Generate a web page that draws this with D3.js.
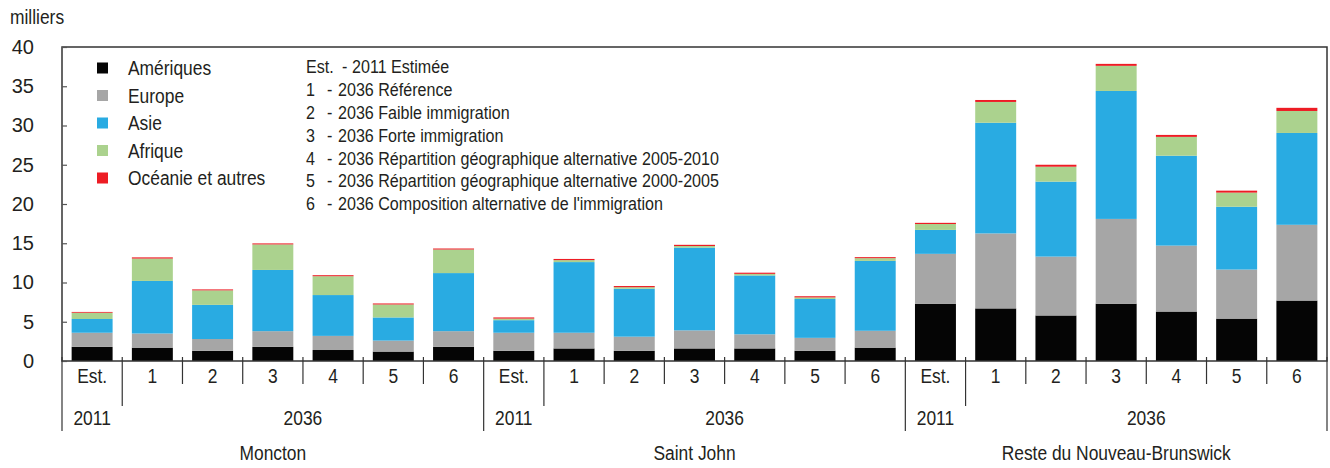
<!DOCTYPE html>
<html>
<head>
<meta charset="utf-8">
<script src="https://cdn.jsdelivr.net/npm/d3@7"></script>
<style>
  body { margin: 0; background: #fff; }
  svg text { font-family: "Liberation Sans", Arial, sans-serif; fill: #231f20; }
</style>
</head>
<body>
<div id="chart"></div>
<script>
/* Immigrant population by region of birth, New Brunswick, thousands. */

let regions = ["Moncton", "Saint John", "Reste du Nouveau-Brunswick"];
let scenarioKeys = ["Est.", "1", "2", "3", "4", "5", "6"];
let yearLabels = ["2011", "2036"];
let yTicks = [0, 5, 10, 15, 20, 25, 30, 35, 40];

let seriesNames = ["Amériques", "Europe", "Asie", "Afrique", "Océanie et autres"];
let seriesColors = ["#050505", "#a6a6a6", "#29abe2", "#abd28e", "#ed1c24"];

/* One value per bar: Moncton Est,1..6 | Saint John Est,1..6 | Reste Est,1..6 */
let ameriques = [1.8, 1.7, 1.3, 1.8, 1.4, 1.2, 1.8,  1.3, 1.6, 1.3, 1.6, 1.6, 1.3, 1.7,  7.3, 6.7, 5.8, 7.3, 6.3, 5.4, 7.7];
let europe    = [1.8, 1.8, 1.5, 2.0, 1.8, 1.4, 2.0,  2.3, 2.0, 1.8, 2.3, 1.8, 1.65, 2.15, 6.35, 9.55, 7.5, 10.8, 8.4, 6.25, 9.65];
let asie      = [1.75, 6.7, 4.35, 7.8, 5.2, 2.95, 7.4, 1.6, 9.0, 6.1, 10.55, 7.5, 4.95, 8.9, 3.05, 14.1, 9.55, 16.3, 11.45, 8.0, 11.7];
let afrique   = [0.8, 2.85, 1.85, 3.25, 2.4, 1.65, 3.0, 0.2, 0.25, 0.2, 0.2, 0.2, 0.2, 0.35, 0.75, 2.65, 1.9, 3.2, 2.4, 1.8, 2.8];
let oceanie   = [0.1, 0.15, 0.12, 0.13, 0.13, 0.13, 0.13, 0.15, 0.15, 0.15, 0.15, 0.15, 0.15, 0.13, 0.15, 0.25, 0.25, 0.25, 0.25, 0.25, 0.4];

let scenarioLegend = [
    ["Est.", "2011 Estimée"],
    ["1", "2036 Référence"],
    ["2", "2036 Faible immigration"],
    ["3", "2036 Forte immigration"],
    ["4", "2036 Répartition géographique alternative 2005-2010"],
    ["5", "2036 Répartition géographique alternative 2000-2005"],
    ["6", "2036 Composition alternative de l'immigration"]
];

let width = 1330, height = 468;
let margins = {left: 62, right: 3, top: 47, bottom: 107};

/* The original uses a condensed face; squeeze the regular one to match. */
function narrow(sel, origin) {
    sel.style("transform-box", "fill-box")
       .style("transform-origin", origin)
       .style("transform", "scaleX(0.87)");
}

/* Build the table d3.stack wants: one row per bar. */
let bars = [];
regions.forEach((r, gi) => {
    scenarioKeys.forEach((k, si) => {
        let i = gi * scenarioKeys.length + si;
        bars.push({
            id: i, region: r, key: k,
            "Amériques": ameriques[i], "Europe": europe[i], "Asie": asie[i],
            "Afrique": afrique[i], "Océanie et autres": oceanie[i]
        });
    });
});

let svg = d3.select("#chart").append("svg")
    .attr("width", width)
    .attr("height", height);

let xscale = d3.scaleBand()
    .domain(bars.map(d => d.id))
    .range([margins.left, width - margins.right])
    .paddingInner(0.32)
    .paddingOuter(0.16);
let yscale = d3.scaleLinear()
    .domain([0, 40])
    .range([height - margins.bottom, margins.top]);
let color = d3.scaleOrdinal().domain(seriesNames).range(seriesColors);

let x0 = margins.left, x1 = width - margins.right;
let y0 = yscale(0), yTop = yscale(40);
let step = xscale.step();

/* Stacked bars */
let stacked = d3.stack().keys(seriesNames)(bars);
svg.append("g").selectAll("g")
    .data(stacked)
    .join("g")
        .attr("fill", d => color(d.key))
    .selectAll("rect")
    .data(d => d)
    .join("rect")
        .attr("x", d => xscale(d.data.id))
        .attr("width", xscale.bandwidth())
        .attr("y", d => yscale(d[1]))
        .attr("height", d => yscale(d[0]) - yscale(d[1]));

/* Frame around the plot area */
svg.append("rect")
    .attr("x", x0).attr("y", yTop)
    .attr("width", x1 - x0).attr("height", y0 - yTop)
    .attr("fill", "none")
    .attr("stroke", "#333")
    .attr("stroke-width", 1.5);

/* Y axis, ticks pointing inward */
let yaxis = d3.axisLeft(yscale).tickValues(yTicks).tickSize(-5).tickPadding(28);
let gy = svg.append("g")
    .attr("transform", "translate(" + x0 + ",0)")
    .call(yaxis);
gy.select(".domain").remove();
gy.selectAll(".tick line").attr("stroke", "#555").attr("stroke-width", 1.2);
gy.selectAll(".tick text").style("font-size", "20px").attr("fill", "#231f20");

/* X axis: scenario labels under each bar */
let xaxis = d3.axisBottom(xscale).tickSize(0).tickPadding(8)
    .tickFormat(i => bars[i].key);
let gx = svg.append("g")
    .attr("transform", "translate(0," + y0 + ")")
    .call(xaxis);
gx.select(".domain").remove();
gx.selectAll(".tick text").style("font-size", "20px").attr("fill", "#231f20")
    .call(narrow, "center");

/* Separator lines between bars: long at region breaks, medium after Est. */
let boundaries = d3.range(bars.length + 1);
svg.append("g").selectAll("line")
    .data(boundaries)
    .join("line")
        .attr("x1", i => x0 + i * step)
        .attr("x2", i => x0 + i * step)
        .attr("y1", y0 - 4)
        .attr("y2", i => i % 7 === 0 ? y0 + 70 : (i % 7 === 1 ? y0 + 45 : y0 + 23))
        .attr("stroke", "#333")
        .attr("stroke-width", 1.2);

/* Year and region labels */
regions.forEach((r, gi) => {
    let first = gi * scenarioKeys.length;
    let estCenter = xscale(first) + xscale.bandwidth() / 2;
    let restCenter = x0 + (first + 4) * step;
    let regionCenter = x0 + (first + 3.5) * step;
    svg.append("text")
        .attr("x", estCenter).attr("y", y0 + 64)
        .attr("text-anchor", "middle").style("font-size", "20px")
        .text(yearLabels[0])
        .call(narrow, "center");
    svg.append("text")
        .attr("x", restCenter).attr("y", y0 + 64)
        .attr("text-anchor", "middle").style("font-size", "20px")
        .text(yearLabels[1])
        .call(narrow, "center");
    svg.append("text")
        .attr("x", regionCenter).attr("y", y0 + 99)
        .attr("text-anchor", "middle").style("font-size", "20px")
        .text(r)
        .call(narrow, "center");
});

/* Unit label */
svg.append("text")
    .attr("x", 10).attr("y", 24)
    .style("font-size", "20px")
    .text("milliers")
    .call(narrow, "left center");

/* Series legend */
let legend = svg.append("g").selectAll("g")
    .data(seriesNames)
    .join("g")
        .attr("transform", (d, i) => "translate(97," + (68 + i * 27.5) + ")");
legend.append("rect")
    .attr("x", 0).attr("y", -5.5)
    .attr("width", 11).attr("height", 11)
    .attr("fill", d => color(d));
legend.append("text")
    .attr("x", 31).attr("dy", "0.35em")
    .style("font-size", "20px")
    .text(d => d)
    .call(narrow, "left center");

/* Scenario legend */
let slegend = svg.append("g").selectAll("g")
    .data(scenarioLegend)
    .join("g")
        .attr("transform", (d, i) => "translate(306," + (67 + i * 22.8) + ")");
slegend.append("text")
    .attr("dy", "0.35em").style("font-size", "18.5px")
    .text(d => d[0])
    .call(narrow, "left center");
slegend.append("text")
    .attr("x", (d, i) => i === 0 ? 36 : 21)
    .attr("dy", "0.35em").style("font-size", "18.5px")
    .text("-")
    .call(narrow, "left center");
slegend.append("text")
    .attr("x", (d, i) => i === 0 ? 46 : 32)
    .attr("dy", "0.35em").style("font-size", "18.5px")
    .text(d => d[1])
    .call(narrow, "left center");
</script>
</body>
</html>
